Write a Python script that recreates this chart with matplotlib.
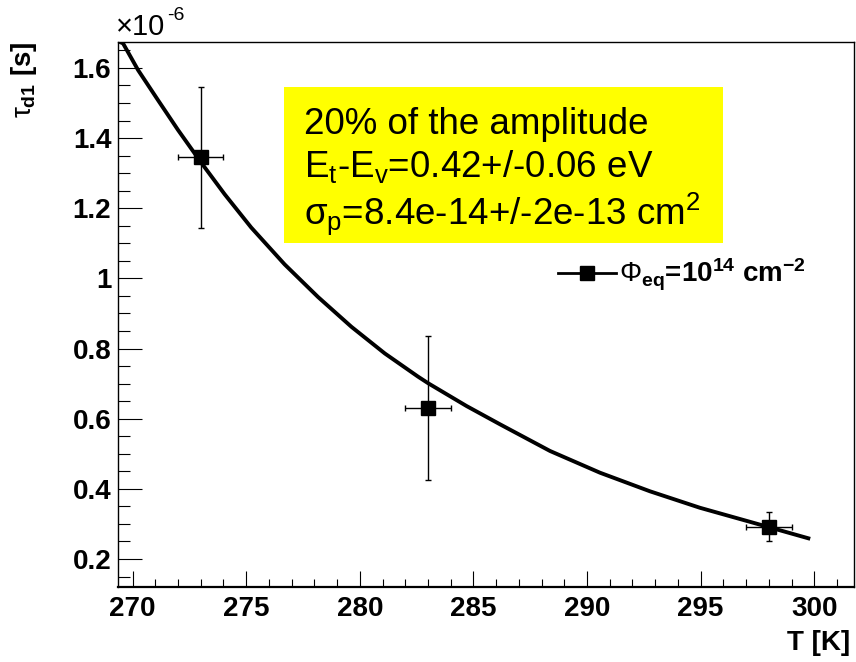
import matplotlib
matplotlib.use("Agg")
import matplotlib.pyplot as plt
from matplotlib.lines import Line2D
from matplotlib.patches import Rectangle
from matplotlib.ticker import MultipleLocator, FuncFormatter
from matplotlib import rcParams

rcParams["font.family"] = "Liberation Sans"
rcParams["mathtext.fontset"] = "custom"
rcParams["mathtext.rm"] = "Liberation Sans"
rcParams["mathtext.it"] = "Liberation Sans"
rcParams["mathtext.bf"] = "Liberation Sans:bold"

# measured points (tau in units of 1e-6 s)
temp_k = [273.0, 283.0, 298.0]
temp_err = [1.0, 1.0, 1.0]
tau_us = [1.345, 0.631, 0.292]
tau_err = [0.201, 0.205, 0.041]

# fitted curve
fit_t = [269.37, 269.58, 270.24, 271.12, 272.00, 273.02, 274.05, 275.22, 276.69,
         278.16, 279.63, 281.10, 282.56, 283.01, 284.70, 286.17, 288.37, 290.57,
         292.77, 294.97, 297.17, 299.74]
fit_tau = [1.676, 1.670, 1.594, 1.508, 1.423, 1.330, 1.240, 1.145, 1.040,
           0.947, 0.862, 0.786, 0.720, 0.701, 0.636, 0.584, 0.508, 0.446,
           0.393, 0.346, 0.306, 0.259]

x_ticks = [270, 275, 280, 285, 290, 295, 300]
y_ticks = [0.2, 0.4, 0.6, 0.8, 1.0, 1.2, 1.4, 1.6]

box_lines = ["20% of the amplitude",
             r"E$_{\rm t}$-E$_{\rm v}$=0.42+/-0.06 eV",
             r"$\sigma_{\rm p}$=8.4e-14+/-2e-13 cm$^{\rm 2}$"]
legend_label = r"$\Phi_{\mathbf{eq}}$=10$^{\mathbf{14}}$ cm$^{\mathbf{-2}}$"

W, H = 856, 662
fig = plt.figure(figsize=(W / 100, H / 100), dpi=100)
left, right, top, bottom = 118.3, 854.0, 42.0, 586.7
ax = fig.add_axes([left / W, 1 - bottom / H, (right - left) / W, (bottom - top) / H])

ax.errorbar(temp_k, tau_us, xerr=temp_err, yerr=tau_err, fmt="s", color="black",
            ms=9.5, elinewidth=1.0, capsize=2.5, capthick=1.0, zorder=3)
ax.plot(fit_t, fit_tau, color="black", lw=2.8, zorder=4, solid_joinstyle="round")

ax.set_xlim(269.37, 301.75)
ax.set_ylim(0.121, 1.674)

ax.xaxis.set_minor_locator(MultipleLocator(1))
ax.yaxis.set_minor_locator(MultipleLocator(0.05))
ax.set_xticks(x_ticks)
ax.set_yticks(y_ticks)
ax.yaxis.set_major_formatter(FuncFormatter(lambda v, p: f"{v:g}"))

ax.tick_params(axis="x", which="major", direction="in", length=11.5, width=0.8, pad=7,
               labelsize=20)
ax.tick_params(axis="x", which="minor", direction="in", length=5.8, width=0.8)
ax.tick_params(axis="y", which="major", direction="in", length=17, width=0.8, pad=5,
               labelsize=20)
ax.tick_params(axis="y", which="minor", direction="in", length=8.6, width=0.8)
for lab in ax.get_xticklabels() + ax.get_yticklabels():
    lab.set_fontweight("bold")

for s in ax.spines.values():
    s.set_linewidth(1.0)
ax.spines["bottom"].set_linewidth(1.6)

# axis titles (ROOT style)
fig.text(850 / W, 1 - 650 / H, "T [K]", ha="right", va="baseline",
         fontsize=20, fontweight="bold")
fig.text(24 / W, 1 - 41 / H, r"$\tau_{\mathbf{d1}}$ [s]", rotation=90, ha="center",
         va="top", fontsize=20, fontweight="bold")
fig.text(116 / W, 1 - 35 / H, "\u00d710", ha="left", va="baseline", fontsize=21)
fig.text(167 / W, 1 - 20 / H, "-6", ha="left", va="baseline", fontsize=14)

# yellow info box
bx0, by0, bx1, by1 = 284, 87.3, 722.7, 242.7
fig.patches.append(Rectangle((bx0 / W, 1 - by1 / H), (bx1 - bx0) / W, (by1 - by0) / H,
                             transform=fig.transFigure, facecolor="#ffff00",
                             edgecolor="none", zorder=5))
for line, base in zip(box_lines, [134, 177.3, 224]):
    fig.text(304 / W, 1 - base / H, line, ha="left", va="baseline", fontsize=26.5,
             zorder=6)

handle = Line2D([], [], color="black", lw=2, marker="s", ms=10.5)
ax.legend([handle], [legend_label], loc="center left",
          bbox_to_anchor=((558 - left) / (right - left), (bottom - 275) / (bottom - top)),
          frameon=False, borderpad=0, borderaxespad=0, handlelength=2.1,
          handletextpad=0.1, prop={"size": 20, "weight": "bold"})

fig.savefig("out.png", dpi=100)
